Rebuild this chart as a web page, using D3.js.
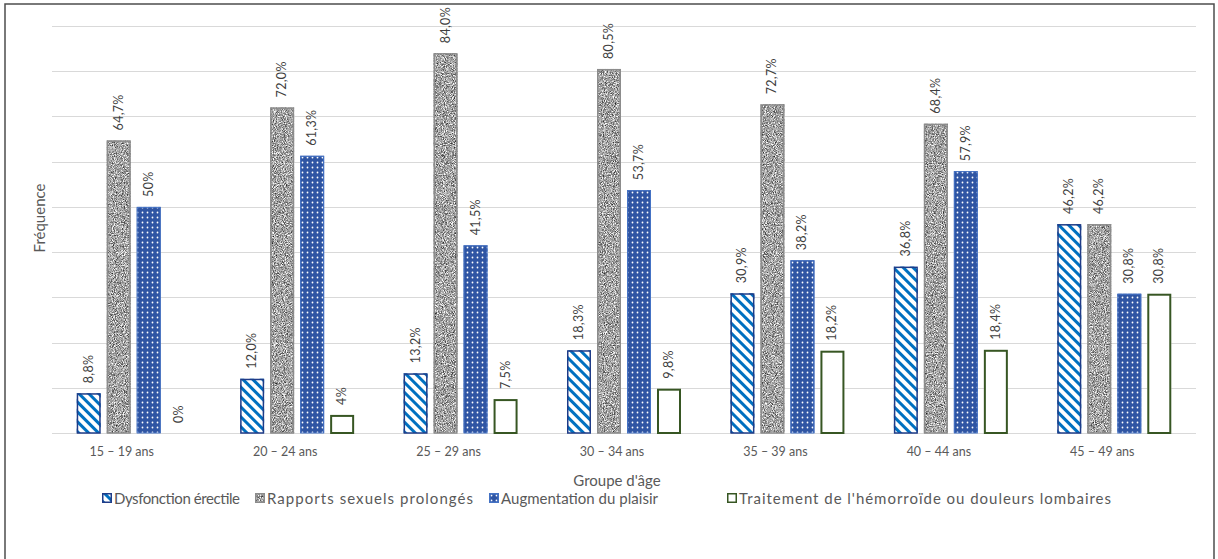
<!DOCTYPE html>
<html lang="fr">
  <head>
    <meta charset="utf-8">
    <title>Fréquence par groupe d'âge</title>
    <script src="https://cdn.jsdelivr.net/npm/d3@7"></script>
    <style>
      body { margin: 0; background: #fff; }
      text { font-family: Lato, "Open Sans", sans-serif; }
    </style>
  </head>
  <body>
    <script>
    // data
    var categories = ["15 – 19 ans", "20 – 24 ans", "25 – 29 ans", "30 – 34 ans",
                      "35 – 39 ans", "40 – 44 ans", "45 – 49 ans"];
    var seriesNames = ["Dysfonction érectile", "Rapports sexuels prolongés",
                       "Augmentation du plaisir", "Traitement de l'hémorroïde ou douleurs lombaires"];
    var dysfonction = [8.8, 12.0, 13.2, 18.3, 30.9, 36.8, 46.2];
    var rapports    = [64.7, 72.0, 84.0, 80.5, 72.7, 68.4, 46.2];
    var plaisir     = [50, 61.3, 41.5, 53.7, 38.2, 57.9, 30.8];
    var traitement  = [0, 4, 7.5, 9.8, 18.2, 18.4, 30.8];
    var dysfonctionLabels = ["8,8%", "12,0%", "13,2%", "18,3%", "30,9%", "36,8%", "46,2%"];
    var rapportsLabels    = ["64,7%", "72,0%", "84,0%", "80,5%", "72,7%", "68,4%", "46,2%"];
    var plaisirLabels     = ["50%", "61,3%", "41,5%", "53,7%", "38,2%", "57,9%", "30,8%"];
    var traitementLabels  = ["0%", "4%", "7,5%", "9,8%", "18,2%", "18,4%", "30,8%"];
    var yTicks = [0, 10, 20, 30, 40, 50, 60, 70, 80, 90];

    var allValues = [dysfonction, rapports, plaisir, traitement];
    var allLabels = [dysfonctionLabels, rapportsLabels, plaisirLabels, traitementLabels];

    var w = 1218, h = 559;
    // plot box (named so they don't clash with window.top)
    var plotLeft = 52, plotRight = 1196, plotTop = 26, plotBottom = 433;

    var svg = d3.select("body").append("svg")
                .attr("width", w)
                .attr("height", h);

    var defs = svg.append("defs");

    // diagonal stripes
    var stripes = defs.append("pattern")
        .attr("id", "stripes")
        .attr("patternUnits", "userSpaceOnUse")
        .attr("width", 7).attr("height", 7)
        .attr("patternTransform", "rotate(-45)");
    stripes.append("rect").attr("width", 7).attr("height", 7).attr("fill", "#fff");
    stripes.append("rect").attr("width", 3).attr("height", 7).attr("fill", "#0070c0");

    // white dots on blue
    var dots = defs.append("pattern")
        .attr("id", "dots")
        .attr("patternUnits", "userSpaceOnUse")
        .attr("width", 5).attr("height", 5);
    dots.append("rect").attr("width", 5).attr("height", 5).attr("fill", "#2f55a3");
    dots.append("circle").attr("cx", 2.5).attr("cy", 2.5).attr("r", 0.9).attr("fill", "#fff");

    // granite speckle
    var granite = defs.append("filter").attr("id", "granite")
        .attr("x", 0).attr("y", 0).attr("width", 1).attr("height", 1)
        .attr("color-interpolation-filters", "sRGB");
    granite.append("feTurbulence")
        .attr("type", "fractalNoise")
        .attr("baseFrequency", 1.1)
        .attr("numOctaves", 2)
        .attr("seed", 3)
        .attr("result", "noise");
    granite.append("feColorMatrix")
        .attr("in", "noise")
        .attr("type", "matrix")
        .attr("values", "1.4 0 0 0 -0.06  1.4 0 0 0 -0.06  1.4 0 0 0 -0.06  0 0 0 0 1")
        .attr("result", "gray");
    granite.append("feComposite")
        .attr("in", "gray").attr("in2", "SourceGraphic")
        .attr("operator", "in");

    var fills = ["url(#stripes)", "#a6a6a6", "url(#dots)", "#fff"];
    var strokes = ["#1f3c88", "#8c8c8c", "#4472c4", "#375623"];
    var strokeW = [1.5, 1.5, 1, 2];

    // outer frame
    svg.append("rect")
       .attr("x", 5).attr("y", 4)
       .attr("width", 1209).attr("height", 570)
       .attr("fill", "none")
       .attr("stroke", "#4d4d4d")
       .attr("stroke-width", 1.5);

    var x0 = d3.scaleBand().domain(categories).range([plotLeft, plotRight]).padding(0);
    var x1 = d3.scaleBand().domain(d3.range(4)).range([0, 114]).paddingInner(0.2).paddingOuter(0);
    var yScale = d3.scaleLinear().domain([0, 90]).range([plotBottom, plotTop]);
    var offset = (x0.bandwidth() - 114) / 2;

    // gridlines
    svg.append("g").selectAll("line")
       .data(yTicks)
       .enter().append("line")
       .attr("x1", plotLeft).attr("x2", plotRight)
       .attr("y1", function(d) { return Math.round(yScale(d)) + 0.5; })
       .attr("y2", function(d) { return Math.round(yScale(d)) + 0.5; })
       .attr("stroke", "#d9d9d9")
       .attr("stroke-width", 1.2);

    // bars
    var rows = [];
    allValues.forEach(function(vals, s) {
      vals.forEach(function(v, i) {
        rows.push({ s: s, cat: categories[i], v: v, label: allLabels[s][i] });
      });
    });

    var bx = function(d) { return x0(d.cat) + offset + x1(d.s); };

    var bars = svg.append("g").selectAll("g")
       .data(rows.filter(function(d) { return d.v > 0; }))
       .enter().append("g");

    bars.append("rect")
       .attr("x", bx)
       .attr("y", function(d) { return yScale(d.v); })
       .attr("width", x1.bandwidth())
       .attr("height", function(d) { return plotBottom - yScale(d.v); })
       .attr("fill", function(d) { return fills[d.s]; })
       .attr("filter", function(d) { return d.s === 1 ? "url(#granite)" : null; });

    bars.append("rect")
       .attr("x", function(d) { return bx(d) + strokeW[d.s] / 2; })
       .attr("y", function(d) { return yScale(d.v) + strokeW[d.s] / 2; })
       .attr("width", function(d) { return x1.bandwidth() - strokeW[d.s]; })
       .attr("height", function(d) { return plotBottom - yScale(d.v) - strokeW[d.s] / 2; })
       .attr("fill", "none")
       .attr("stroke", function(d) { return strokes[d.s]; })
       .attr("stroke-width", function(d) { return strokeW[d.s]; });

    // value labels, rotated
    svg.append("g").selectAll("text")
       .data(rows)
       .enter().append("text")
       .attr("transform", function(d) {
         var cx = bx(d) + x1.bandwidth() / 2 + 4;
         var cy = yScale(d.v) - 10;
         return "translate(" + cx + "," + cy + ") rotate(-90)";
       })
       .attr("font-size", 12.5)
       .attr("letter-spacing", 0.3)
       .attr("fill", "#404040")
       .text(function(d) { return d.label; });

    // category axis labels
    svg.append("g").selectAll("text")
       .data(categories)
       .enter().append("text")
       .attr("x", function(d) { return x0(d) + x0.bandwidth() / 2 - 12; })
       .attr("y", 456)
       .attr("text-anchor", "middle")
       .attr("font-size", 12.5)
       .attr("fill", "#595959")
       .text(function(d) { return d; });

    svg.append("text")
       .attr("x", 617).attr("y", 486)
       .attr("text-anchor", "middle")
       .attr("font-size", 15)
       .attr("fill", "#595959")
       .text("Groupe d'âge");

    svg.append("text")
       .attr("transform", "translate(45,218) rotate(-90)")
       .attr("text-anchor", "middle")
       .attr("font-size", 15)
       .attr("fill", "#595959")
       .text("Fréquence");

    // legend: item x and text width as measured on the picture
    var legendX = [102, 255, 489, 727];
    var legendW = [126, 206, 157, 372];
    var legend = svg.append("g").selectAll("g")
       .data(seriesNames)
       .enter().append("g")
       .attr("transform", function(d, i) { return "translate(" + legendX[i] + ",493)"; });

    legend.append("rect")
       .attr("width", 10).attr("height", 10)
       .attr("fill", function(d, i) { return fills[i]; })
       .attr("filter", function(d, i) { return i === 1 ? "url(#granite)" : null; });
    legend.append("rect")
       .attr("x", 0.75).attr("y", 0.75)
       .attr("width", 8.5).attr("height", 8.5)
       .attr("fill", "none")
       .attr("stroke", function(d, i) { return strokes[i]; })
       .attr("stroke-width", 1.5);
    legend.append("text")
       .attr("x", 12).attr("y", 10.5)
       .attr("font-size", 15)
       .attr("textLength", function(d, i) { return legendW[i]; })
       .attr("lengthAdjust", "spacing")
       .attr("fill", "#595959")
       .text(function(d) { return d; });
    </script>
  </body>
</html>
